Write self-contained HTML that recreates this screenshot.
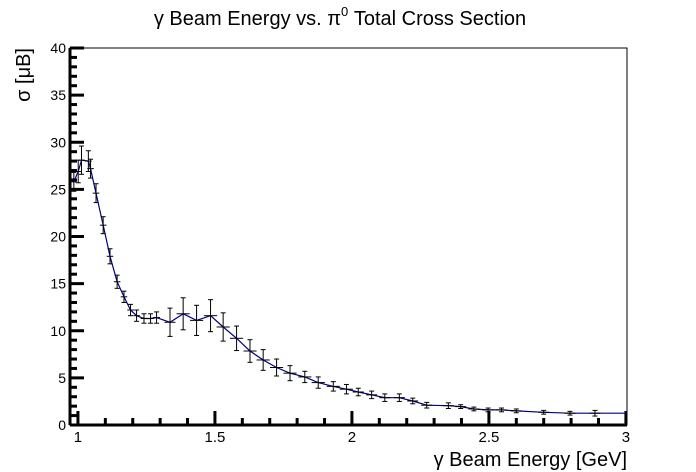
<!DOCTYPE html>
<html><head><meta charset="utf-8"><style>
body{margin:0;background:#fff;}
svg{display:block;font-family:"Liberation Sans",sans-serif;}
</style></head><body>
<svg id="chart" width="696" height="472">
<text x="340" y="25" text-anchor="middle" font-size="20">γ Beam Energy vs. π<tspan dy="-9" font-size="13">0</tspan><tspan dy="9"> Total Cross Section</tspan></text>
<text x="627" y="466" text-anchor="end" font-size="20">γ Beam Energy [GeV]</text>
<text transform="translate(30,48) rotate(-90)" text-anchor="end" font-size="20">σ [μB]</text>
<rect x="70" y="48" width="557" height="377" fill="none" stroke="#000" stroke-width="1"/>
<g id="axes"></g>
<g id="marks"></g>
</svg>
<script>
const energies=[0.985,1.001,1.013,1.038,1.046,1.066,1.092,1.117,1.143,1.168,1.192,1.214,1.241,1.265,1.287,1.336,1.384,1.433,1.484,1.530,1.579,1.628,1.676,1.725,1.774,1.828,1.877,1.932,1.98,2.023,2.072,2.12,2.173,2.222,2.273,2.352,2.397,2.445,2.497,2.546,2.60,2.70,2.796,2.887];
const crossSections=[25.8,26.9,28.1,28.0,27.2,24.6,21.2,17.9,15.2,13.6,12.2,11.6,11.3,11.3,11.4,10.9,11.8,11.1,11.6,10.4,9.2,7.85,6.9,6.1,5.5,5.1,4.5,4.1,3.8,3.5,3.2,2.9,2.9,2.55,2.1,2.05,1.95,1.7,1.6,1.6,1.5,1.35,1.25,1.25];
const yErrors=[1.0,1.2,1.5,1.1,1.0,1.0,0.9,0.8,0.7,0.6,0.6,0.6,0.5,0.5,0.6,1.5,1.7,1.6,1.7,1.5,1.3,1.2,1.1,0.9,0.8,0.6,0.6,0.5,0.5,0.4,0.4,0.4,0.4,0.3,0.3,0.3,0.2,0.2,0.2,0.2,0.2,0.2,0.2,0.3];
const xErrors=[0.01,0.01,0.012,0.012,0.012,0.012,0.012,0.012,0.012,0.012,0.012,0.012,0.012,0.012,0.012,0.02,0.024,0.024,0.024,0.024,0.024,0.024,0.024,0.024,0.024,0.024,0.024,0.024,0.024,0.02,0.02,0.02,0.02,0.02,0.02,0.02,0.02,0.02,0.02,0.02,0.02,0.02,0.02,0.02];
const xTickLabels=["1","1.5","2","2.5","3"];
const yTickLabels=["0","5","10","15","20","25","30","35","40"];
const NS="http://www.w3.org/2000/svg";
const X0=70,X1=627,Y0=425,Y1=48,XMIN=0.971,XMAX=3.004,YMIN=0,YMAX=40;
const sx=v=>X0+(v-XMIN)/(XMAX-XMIN)*(X1-X0);
const sy=v=>Y0-(v-YMIN)/(YMAX-YMIN)*(Y0-Y1);
function mk(tag,attrs,parent){const e=document.createElementNS(NS,tag);for(const k in attrs)e.setAttribute(k,attrs[k]);parent.appendChild(e);return e;}
const axes=document.getElementById('axes'),marks=document.getElementById('marks');
for(let v=0;v<=40;v+=1){const major=v%5===0;
 const t=mk('line',{x1:X0,x2:X0+(major?14:7),y1:sy(v),y2:sy(v),stroke:'#000','stroke-width':3},axes);
 
 }
yTickLabels.forEach(l=>{const t=mk('text',{x:X0-4,y:sy(+l)+5,'text-anchor':'end','font-size':14},axes);t.textContent=l;
 
 });
for(let i=0;i<=20;i++){const v=1+i*0.1;const major=i%5===0;
 const t=mk('line',{x1:sx(v),x2:sx(v),y1:Y0,y2:Y0-(major?14:7),stroke:'#000','stroke-width':3},axes);
 
 }
mk('line',{x1:X0,x2:X1,y1:Y0,y2:Y0,stroke:'#000','stroke-width':3},axes);
mk('line',{x1:X0,x2:X0,y1:Y0,y2:Y1,stroke:'#000','stroke-width':3},axes);
xTickLabels.forEach(l=>{const t=mk('text',{x:sx(+l),y:Y0+17,'text-anchor':'middle','font-size':15},axes);t.textContent=l;
 
 });
let d=energies.map((e,i)=>(i?'L':'M')+sx(e).toFixed(1)+','+sy(crossSections[i]).toFixed(1)).join(' ');
d+=' L'+X1+','+sy(crossSections[crossSections.length-1]).toFixed(1);
const line=mk('path',{d:d,fill:'none',stroke:'#000080','stroke-width':1.2},marks);


energies.forEach((e,i)=>{const x=sx(e),y=sy(crossSections[i]),yl=sy(crossSections[i]-yErrors[i]),yh=sy(crossSections[i]+yErrors[i]);
 const xl=sx(e-xErrors[i]),xh=sx(e+xErrors[i]);
 const g=mk('g',{stroke:'#000','stroke-width':1},marks);
 
 
 mk('line',{x1:x,x2:x,y1:yl,y2:yh},g);
 mk('line',{x1:x-2.5,x2:x+2.5,y1:yl,y2:yl},g);
 mk('line',{x1:x-2.5,x2:x+2.5,y1:yh,y2:yh},g);
 mk('line',{x1:xl,x2:xh,y1:y,y2:y},g);
});
</script>
</body></html>
